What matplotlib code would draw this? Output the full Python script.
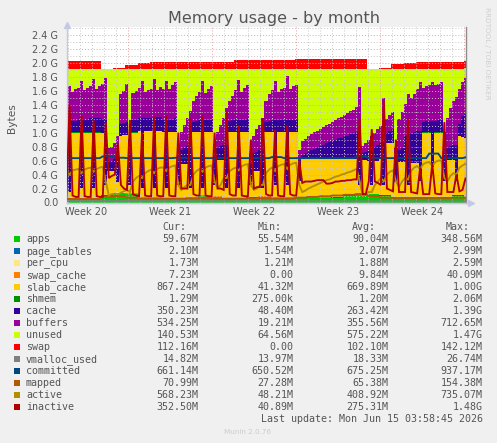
import numpy as np
import matplotlib
matplotlib.use("Agg")
import matplotlib.pyplot as plt

# ---------------- data (values in G, 6-hour samples; one row = one day) -------------
slab_cache = [
    .94, .09, .94, .94,  .94, .14, .94, .94,  .94, .14, .94, .94,  .89, .14, .34, .34,
    .30, .15, .80, .82,  .84, .12, .87, .87,  .95, .13, .95, .95,  .95, .13, .95, .95,
    .94, .14, .94, .94,  .94, .19, .49, .49,  .48, .13, .93, .93,  .90, .10, .90, .90,
    .91, .16, .51, .51,  .54, .14, .94, .94,  .94, .14, .94, .94,  .92, .17, .37, .37,
    .36, .11, .91, .91,  .93, .18, .93, .93,  .93, .18, .93, .93,  .93, .23, .55, .55,
    .55, .55, .55, .55,  .55, .55, .55, .55,  .54, .54, .54, .54,  .51, .51, .51, .51,
    .49, .12, .47, .47,  .47, .12, .47, .47,  .51, .14, .74, .74,  .77, .22, .50, .50,
    .51, .18, .49, .49,  .49, .23, .93, .93,  .93, .43, .93, .93,  .92, .22, .52, .52,
    .49, .19, .84, .82,  .847]
cache = [
    .17, 1.02, .17, .17,  .18, .98, .18, .18,  .20, 1.00, .20, .20,  .20, .95, .15, .15,
    .17, .40, .17, .17,   .18, .45, .18, .18,  .18, 1.00, .18, .18,  .18, 1.00, .20, .20,
    .18, .98, .18, .18,   .20, .35, .20, .23,  .25, .60, .15, .16,   .17, .97, .17, .18,
    .18, .35, .18, .20,   .22, .62, .16, .17,  .18, .98, .18, .18,   .19, .30, .25, .27,
    .30, .55, .15, .16,   .18, .93, .18, .18,  .18, .93, .18, .18,   .18, .30, .06, .08,
    .10, .12, .14, .16,   .18, .20, .22, .24,  .26, .27, .29, .30,   .32, .33, .35, .36,
    .38, .75, .10, .12,   .14, .49, .20, .22,  .23, .60, .15, .17,   .20, .30, .17, .20,
    .37, .70, .42, .44,   .46, .72, .15, .16,  .17, .67, .17, .18,   .18, .40, .18, .20,
    .22, .52, .17, .31,   .342]
buffers = [
    .39, .49, .41, .45,  .46, .56, .42, .46,  .46, .56, .42, .46,  .50, .58, .18, .20,
    .23, .25, .44, .46,  .55, .20, .38, .42,  .43, .54, .38, .40,  .42, .56, .38, .43,
    .44, .56, .44, .50,  .52, .20, .25, .32,  .40, .50, .30, .36,  .41, .57, .39, .44,
    .48, .18, .22, .30,  .38, .53, .29, .35,  .42, .57, .40, .46,  .49, .15, .25, .33,
    .35, .45, .30, .39,  .42, .56, .40, .44,  .46, .62, .44, .48,  .50, .15, .20, .20,
    .23, .23, .24, .24,  .25, .25, .26, .26,  .27, .28, .29, .30,  .31, .32, .33, .34,
    .36, .65, .10, .13,  .16, .21, .20, .23,  .25, .65, .20, .23,  .25, .20, .45, .52,
    .45, .60, .52, .55,  .60, .70, .49, .50,  .51, .55, .51, .52,  .54, .30, .42, .55,
    .63, .68, .50, .48,  .522]
unused = [
    .35, .25, .33, .29,  .27, .17, .31, .27,  .25, .15, .29, .25,  .21, .13, 1.13, 1.11,
    1.06, .96, .35, .31, .21, 1.01, .35, .31, .28, .17, .33, .31,  .29, .15, .31, .26,
    .29, .17, .29, .23,  .19, 1.11, .91, .81, .71, .61, .46, .39,  .33, .17, .35, .29,
    .25, 1.13, .91, .81, .71, .56, .46, .39,  .31, .16, .33, .27,  .23, 1.21, .96, .86,
    .81, .71, .46, .36,  .31, .17, .33, .29,  .27, .11, .29, .25,  .23, 1.16, 1.03, 1.01,
    .96, .94, .91, .89,  .86, .84, .81, .79,  .76, .74, .71, .69,  .66, .64, .61, .59,
    .55, .26, 1.11, 1.06, 1.01, .96, .91, .86, .81, .41, .71, .66,  .61, 1.11, .71, .61,
    .51, .36, .41, .36,  .29, .19, .27, .25,  .23, .19, .23, .21,  .19, .91, .71, .56,
    .46, .41, .29, .19,  .137]
inactive = [
    .08, 1.40, .10, .08,  .08, 1.25, .09, .08,  .08, 1.18, .09, .08,  .08, 1.15, .35, .38,
    .40, .85, .25, .20,   .18, 1.18, .12, .10,  .09, 1.00, .10, .09,  .09, 1.23, .10, .09,
    .09, 1.25, .10, .09,  .09, 1.00, .20, .20,  .20, 1.20, .12, .10,  .10, 1.25, .10, .09,
    .09, 1.00, .20, .20,  .18, 1.30, .12, .10,  .10, 1.10, .10, .09,  .09, .90, .20, .22,
    .22, 1.20, .12, .10,  .10, 1.04, .10, .09,  .09, 1.10, .12, .10,  .10, .60, .28, .30,
    .30, .30, .31, .32,   .32, .32, .27, .27,   .28, .30, .30, .31,   .31, .32, .32, .33,
    .33, 1.20, .12, .12,  .30, 1.05, .30, .28,  .25, 1.46, .20, .18,  .16, .90, .15, .15,
    .15, 1.20, .15, .14,  .13, .50, .12, .12,   .12, .55, .13, .12,   .12, 1.15, .15, .15,
    .15, .40, .16, .18,   .344]
active = [
    .45, .40, .46, .47,  .48, .42, .47, .49,  .50, .44, .48, .50,  .51, .30, .10, .12,
    .13, .12, .14, .16,  .18, .15, .30, .35,  .38, .35, .42, .45,  .47, .42, .48, .50,
    .50, .45, .50, .52,  .53, .25, .18, .22,  .25, .25, .40, .45,  .48, .44, .50, .52,
    .53, .30, .20, .25,  .35, .35, .45, .48,  .50, .46, .52, .54,  .55, .25, .18, .20,
    .25, .25, .42, .47,  .50, .45, .52, .54,  .55, .48, .54, .56,  .57, .25, .15, .17,
    .20, .22, .24, .26,  .28, .30, .32, .33,  .35, .37, .38, .40,  .41, .43, .44, .46,
    .48, .30, .10, .12,  .15, .15, .25, .30,  .35, .30, .40, .44,  .46, .30, .22, .30,
    .35, .33, .45, .50,  .52, .48, .55, .57,  .58, .52, .58, .60,  .60, .35, .30, .38,
    .42, .40, .50, .53,  .555]

# daily values (one per day) + current value
apps_daily = [.05, .05, .05, .10, .14, .12, .06, .06, .05, .05, .06, .09, .08, .05, .05, .07, .08,
              .06, .06, .06, .06, .06, .07, .10, .12, .12, .10, .07, .06, .06, .06, .07, .10]
apps_cur = .058
page_tables_daily = [.0020, .0021, .0020, .0022, .0025, .0024, .0020, .0020, .0019, .0020, .0021,
                     .0022, .0021, .0020, .0019, .0021, .0022, .0020, .0020, .0021, .0020, .0020,
                     .0020, .0021, .0023, .0022, .0021, .0020, .0020, .0020, .0020, .0020, .0021]
page_tables_cur = .0021
per_cpu_daily = [.0018, .0018, .0018, .0019, .0020, .0019, .0018, .0018, .0018, .0018, .0018,
                 .0019, .0018, .0018, .0018, .0018, .0019, .0018, .0018, .0018, .0018, .0018,
                 .0018, .0018, .0019, .0019, .0018, .0018, .0018, .0018, .0018, .0017, .0017]
per_cpu_cur = .0017
swap_cache_daily = [.0072, .0072, .0070, .0000, .0010, .0060, .0080, .0085, .0090, .0095, .0095,
                    .0095, .0095, .0095, .0100, .0100, .0100, .0100, .0100, .0110, .0110, .0110,
                    .0110, .0110, .0110, .0005, .0030, .0060, .0070, .0070, .0070, .0072, .0072]
swap_cache_cur = .0071
shmem_daily = [.0012, .0012, .0012, .0015, .0018, .0016, .0012, .0012, .0011, .0011, .0012,
               .0012, .0012, .0011, .0011, .0012, .0012, .0012, .0012, .0012, .0012, .0012,
               .0012, .0012, .0013, .0013, .0012, .0012, .0012, .0012, .0012, .0012, .0013]
shmem_cur = .0013
swap_daily = [.11, .11, .11, .005, .01, .06, .085, .095, .10, .10, .10, .10, .10, .10, .13, .13, .13,
              .13, .13, .13, .13, .13, .13, .13, .13, .0, .02, .07, .08, .10, .10, .10, .10]
swap_cur = .109
vmalloc_daily = [.020, .020, .020, .021, .022, .021, .020, .020, .019, .019, .019, .019, .019, .019,
                 .019, .018, .018, .018, .018, .018, .017, .017, .017, .017, .017, .016, .016, .016,
                 .016, .015, .015, .015, .015]
vmalloc_cur = .0145
committed_daily = [.635, .635, .635, .66, .64, .635, .635, .635, .635, .64, .635, .635, .635, .635,
                   .635, .635, .635, .65, .635, .635, .635, .635, .635, .635, .66, .635, .635,
                   .635, .635, .635, .70, .635, .635]
committed_cur = .646
mapped_daily = [.05, .05, .05, .08, .09, .07, .055, .055, .055, .055, .06, .06, .055, .055, .055,
                .06, .06, .055, .055, .07, .08, .09, .10, .11, .12, .09, .07, .065, .065, .065,
                .065, .065, .07]
mapped_cur = .069

names = ["apps", "page_tables", "per_cpu", "swap_cache", "slab_cache", "shmem", "cache",
         "buffers", "unused", "swap", "vmalloc_used", "committed", "mapped", "active", "inactive"]
colors = ["#00CC00", "#0066B3", "#FFE680", "#FF8000", "#FFCC00", "#008F00", "#330099",
          "#990099", "#CCFF00", "#FF0000", "#808080", "#00487D", "#B35A00", "#B38F00", "#B30000"]
cur_txt = ["59.67M", "2.10M", "1.73M", "7.23M", "867.24M", "1.29M", "350.23M", "534.25M",
           "140.53M", "112.16M", "14.82M", "661.14M", "70.99M", "568.23M", "352.50M"]
min_txt = ["55.54M", "1.54M", "1.21M", "0.00", "41.32M", "275.00k", "48.40M", "19.21M",
           "64.56M", "0.00", "13.97M", "650.52M", "27.28M", "48.21M", "40.89M"]
avg_txt = ["90.04M", "2.07M", "1.88M", "9.84M", "669.89M", "1.20M", "263.42M", "355.56M",
           "575.22M", "102.10M", "18.33M", "675.25M", "65.38M", "408.92M", "275.31M"]
max_txt = ["348.56M", "2.99M", "2.59M", "40.09M", "1.00G", "2.06M", "1.39G", "712.65M",
           "1.47G", "142.12M", "26.74M", "937.17M", "154.38M", "735.07M", "1.48G"]
week_labels = ["Week 20", "Week 21", "Week 22", "Week 23", "Week 24"]
ytick_vals = [0.0, 0.2, 0.4, 0.6, 0.8, 1.0, 1.2, 1.4, 1.6, 1.8, 2.0, 2.2, 2.4]


def expand(daily, cur):
    return np.append(np.repeat(np.array(daily, dtype=float), 4), cur)


t = np.arange(len(slab_cache)) * 0.25  # days since graph start, 6 h steps

series = {
    "apps": expand(apps_daily, apps_cur),
    "page_tables": expand(page_tables_daily, page_tables_cur),
    "per_cpu": expand(per_cpu_daily, per_cpu_cur),
    "swap_cache": expand(swap_cache_daily, swap_cache_cur),
    "slab_cache": np.array(slab_cache),
    "shmem": expand(shmem_daily, shmem_cur),
    "cache": np.array(cache),
    "buffers": np.array(buffers),
    "unused": np.array(unused),
    "swap": expand(swap_daily, swap_cur),
    "vmalloc_used": expand(vmalloc_daily, vmalloc_cur),
    "committed": expand(committed_daily, committed_cur),
    "mapped": expand(mapped_daily, mapped_cur),
    "active": np.array(active),
    "inactive": np.array(inactive),
}
stacked = names[:10]
lines = names[10:]

# ---------------- figure ----------------
W, H = 497, 443
fig = plt.figure(figsize=(W / 100, H / 100), dpi=100, facecolor="#F0F0F0")
x0, x1, y0, y1 = 66.5, 465.5, 202.5, 26.7
ax = fig.add_axes([x0 / W, 1 - y0 / H, (x1 - x0) / W, (y0 - y1) / H])
ax.set_facecolor("white")
xmax = t[-1]
ppd = (x1 - x0) / xmax
ymax = 2.515
ax.set_xlim(0, xmax)
ax.set_ylim(0, ymax)


def px2day(px):
    return (px - x0) / ppd


base = np.zeros_like(t)
for nm, col in zip(names, colors):
    if nm in stacked:
        top = base + series[nm]
        ax.fill_between(t, base, top, step="mid", color=col, lw=0, zorder=1)
        base = top

# grid
minor_col, major_col = "#C8C8C8", "#E8A0A0"
dots = (0, (1, 2))
for k in range(1, 26):
    yv = k * 0.1
    is_major = k % 2 == 0
    ax.axhline(yv, color=major_col if is_major else minor_col, lw=0.7, ls=dots, zorder=2)
for k in range(-6, 30):
    px = 128 + 12 * k
    if x0 < px < x1:
        is_major = (k % 7) == 0
        ax.axvline(px2day(px), color=major_col if is_major else minor_col, lw=0.7, ls=dots,
                   zorder=2)

for nm, col in zip(names, colors):
    if nm in lines:
        ax.plot(t, series[nm], color=col, lw=1.35, zorder=3, solid_joinstyle="miter")

# axes decoration
ax.spines["top"].set_visible(False)
ax.spines["right"].set_color("#8C8C8C")
ax.spines["right"].set_linewidth(1.0)
ax.spines["left"].set_color("#C4C8E4")
ax.spines["bottom"].set_color("#C4C8E4")
ax.spines["left"].set_linewidth(1.0)
ax.spines["bottom"].set_linewidth(1.0)
ax.plot([0], [ymax + 0.03], marker="^", color="#C4C8E4", ms=4, clip_on=False, zorder=5)
ax.plot([px2day(471)], [0], marker=">", color="#C4C8E4", ms=4, clip_on=False, zorder=5)
ax.plot([0, px2day(470)], [0, 0], color="#C4C8E4", lw=1.0, clip_on=False, zorder=5)

ax.set_yticks(ytick_vals)
ax.set_yticklabels(["0.0" if v == 0 else f"{v:.1f} G" for v in ytick_vals])
ax.set_xticks([px2day(p) for p in [86, 170, 254, 338, 422]])
ax.set_xticklabels(week_labels)
ax.tick_params(axis="both", length=0, labelsize=7, labelcolor="#555555")
ax.tick_params(axis="y", pad=6)
ax.tick_params(axis="x", pad=3.5)

fig.text(12 / W, 1 - 118 / H, "Bytes", rotation=90, ha="center", va="center",
         fontsize=7.6, color="#555555")
fig.text(274 / W, 1 - 18 / H, "Memory usage - by month", ha="center", va="center",
         fontsize=11.5, color="#555555")
fig.text(487 / W, 1 - 53 / H, "RRDTOOL / TOBI OETIKER", rotation=270, ha="center",
         va="center", fontsize=5.2, color="#CFCFCF")

# legend table
mono = "DejaVu Sans Mono"
fs = 7.2
tc = "#555555"
hdr_y = 227.3
for txt, xr in zip(["Cur:", "Min:", "Avg:", "Max:"], [186.7, 281.7, 376.0, 470.0]):
    fig.text(xr / W, 1 - hdr_y / H, txt, ha="right", va="center", family=mono, fontsize=fs,
             color=tc)
for i, nm in enumerate(names):
    ry = 239.3 + 12 * i
    fig.patches.append(plt.Rectangle((14 / W, 1 - (ry + 3) / H), 6 / W, 6 / H,
                                     transform=fig.transFigure, color=colors[i], lw=0))
    fig.text(26 / W, 1 - ry / H, nm, ha="left", va="center", family=mono, fontsize=fs,
             color=tc)
    for txt, xr in zip([cur_txt[i], min_txt[i], avg_txt[i], max_txt[i]],
                       [198.3, 293.3, 388.3, 482.7]):
        fig.text(xr / W, 1 - ry / H, txt, ha="right", va="center", family=mono, fontsize=fs,
                 color=tc)
fig.text(482.7 / W, 1 - 419 / H, "Last update: Mon Jun 15 03:58:45 2026", ha="right",
         va="center", family=mono, fontsize=fs, color=tc)
fig.text(248 / W, 1 - 432.5 / H, "Munin 2.0.76", ha="center", va="center", fontsize=5.2,
         color="#CCCCCC")

fig.savefig("out.png", dpi=100, facecolor=fig.get_facecolor())
